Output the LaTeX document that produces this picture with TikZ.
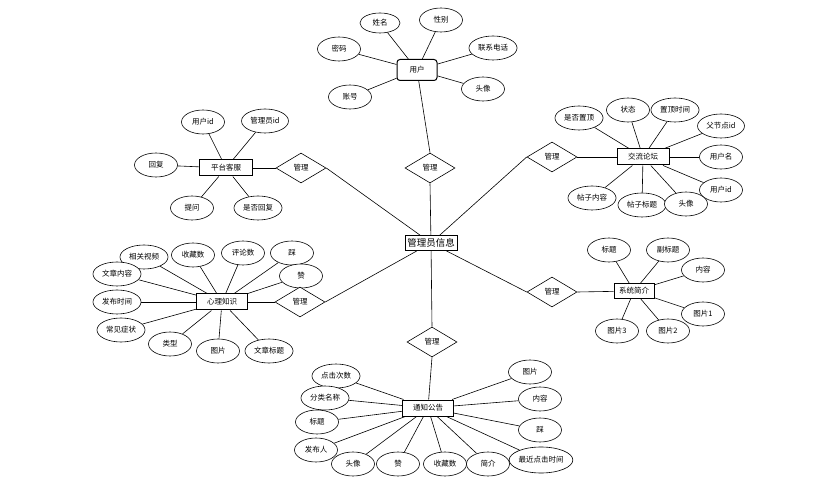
\documentclass[tikz,border=0pt]{standalone}
\usepackage{fontspec}
\setmainfont{Noto Sans CJK SC}
\usetikzlibrary{shapes.geometric,backgrounds}
\begin{document}
\begin{tikzpicture}[x=1pt,y=-1pt,
 attr/.style={ellipse,draw,fill=white,line width=0.6pt,minimum width=43pt,minimum height=24pt,inner xsep=2pt,inner ysep=1pt,font=\fontsize{7.5}{9}\selectfont},
 ent/.style={rectangle,draw,fill=white,line width=1pt,minimum height=16pt,inner xsep=2pt,inner ysep=1pt,font=\fontsize{7.5}{9}\selectfont},
 rel/.style={diamond,draw,fill=white,line width=0.6pt,minimum width=50pt,minimum height=30pt,inner sep=0pt,aspect=1.6,font=\fontsize{7.5}{9}\selectfont},
 lk/.style={line width=0.6pt}]
\useasboundingbox (0,0) rectangle (830,486);
% center
\node[ent,minimum width=52pt,minimum height=15pt,font=\fontsize{9.5}{11}\selectfont] (gl) at (431,243) {管理员信息};
% 用户
\node[ent,rounded corners=3pt,minimum width=40pt,minimum height=21pt] (yh) at (417,70) {用户};
\node[attr,minimum width=40pt,minimum height=20pt] (yh1) at (380,23) {姓名};
\node[attr] (yh2) at (441,20) {性别};
\node[attr] (yh3) at (339,49) {密码};
\node[attr] (yh4) at (493,48) {联系电话};
\node[attr] (yh5) at (350,97) {账号};
\node[attr] (yh6) at (483,89) {头像};
\node[rel] (g1) at (430,168) {管理};
% 平台客服
\node[ent,minimum width=53pt] (pt) at (226,168) {平台客服};
\node[attr] (pt1) at (203,122) {用户id};
\node[attr] (pt2) at (265,121) {管理员id};
\node[attr] (pt3) at (156,165) {回复};
\node[attr] (pt4) at (192,208) {提问};
\node[attr] (pt5) at (258,208) {是否回复};
\node[rel] (g2) at (301,168) {管理};
% 交流论坛
\node[ent,minimum width=52pt] (lt) at (643,157) {交流论坛};
\node[attr] (lt1) at (579,118) {是否置顶};
\node[attr] (lt2) at (628,110) {状态};
\node[attr] (lt3) at (675,110) {置顶时间};
\node[attr] (lt4) at (721,126) {父节点id};
\node[attr] (lt5) at (721,157) {用户名};
\node[attr] (lt6) at (721,190) {用户id};
\node[attr] (lt7) at (592,198) {帖子内容};
\node[attr] (lt8) at (642,205) {帖子标题};
\node[attr] (lt9) at (686,204) {头像};
\node[rel] (g3) at (552,157) {管理};
% 心理知识
\node[ent,minimum width=51pt] (xl) at (222,302) {心理知识};
\node[attr] (xl1) at (144,257) {相关视频};
\node[attr] (xl2) at (193,255) {收藏数};
\node[attr] (xl3) at (243,253) {评论数};
\node[attr] (xl4) at (292,253) {踩};
\node[attr] (xl5) at (301,276) {赞};
\node[attr] (xl6) at (117,274) {文章内容};
\node[attr] (xl7) at (117,302) {发布时间};
\node[attr] (xl8) at (121,330) {常见症状};
\node[attr] (xl9) at (170,344) {类型};
\node[attr] (xl10) at (218,351) {图片};
\node[attr] (xl11) at (269,351) {文章标题};
\node[rel] (g4) at (300,302) {管理};
% 系统简介
\node[ent,minimum width=40pt,minimum height=15pt] (xt) at (634,291) {系统简介};
\node[attr] (xt1) at (609,250) {标题};
\node[attr] (xt2) at (668,250) {副标题};
\node[attr] (xt3) at (703,270) {内容};
\node[attr] (xt4) at (703,314) {图片1};
\node[attr] (xt5) at (617,331) {图片3};
\node[attr] (xt6) at (668,331) {图片2};
\node[rel] (g5) at (552,292) {管理};
% 通知公告
\node[ent,minimum width=51pt] (tz) at (428,408) {通知公告};
\node[attr] (tz1) at (336,376) {点击次数};
\node[attr] (tz2) at (325,398) {分类名称};
\node[attr] (tz3) at (317,422) {标题};
\node[attr] (tz4) at (316,450) {发布人};
\node[attr] (tz5) at (353,464) {头像};
\node[attr] (tz6) at (398,464) {赞};
\node[attr] (tz7) at (445,464) {收藏数};
\node[attr] (tz8) at (488,464) {简介};
\node[attr,minimum width=63pt,minimum height=26pt,inner xsep=0pt] (tz9) at (541,460) {最近点击时间};
\node[attr] (tz10) at (530,372) {图片};
\node[attr] (tz11) at (540,399) {内容};
\node[attr] (tz12) at (540,430) {踩};
\node[rel] (g6) at (432,342) {管理};
\begin{scope}[on background layer]
\foreach \i in {1,...,6} \draw[lk] (yh\i) -- (yh);
\foreach \i in {1,...,5} \draw[lk] (pt\i) -- (pt);
\foreach \i in {1,...,9} \draw[lk] (lt\i) -- (lt);
\foreach \i in {1,...,11} \draw[lk] (xl\i) -- (xl);
\foreach \i in {1,...,6} \draw[lk] (xt\i) -- (xt);
\foreach \i in {1,...,12} \draw[lk] (tz\i) -- (tz);
\draw[lk] (yh) -- (g1.north);
\draw[lk] (g1.south) -- (gl);
\draw[lk] (gl) -- (g6.north);
\draw[lk] (g6.south) -- (tz);
\draw[lk] (pt) -- (g2.west);
\draw[lk] (g2.east) -- (gl);
\draw[lk] (lt) -- (g3.east);
\draw[lk] (g3.west) -- (gl);
\draw[lk] (xl) -- (g4.west);
\draw[lk] (g4.east) -- (gl);
\draw[lk] (xt) -- (g5.east);
\draw[lk] (g5.west) -- (gl);
\end{scope}
\end{tikzpicture}
\end{document}
